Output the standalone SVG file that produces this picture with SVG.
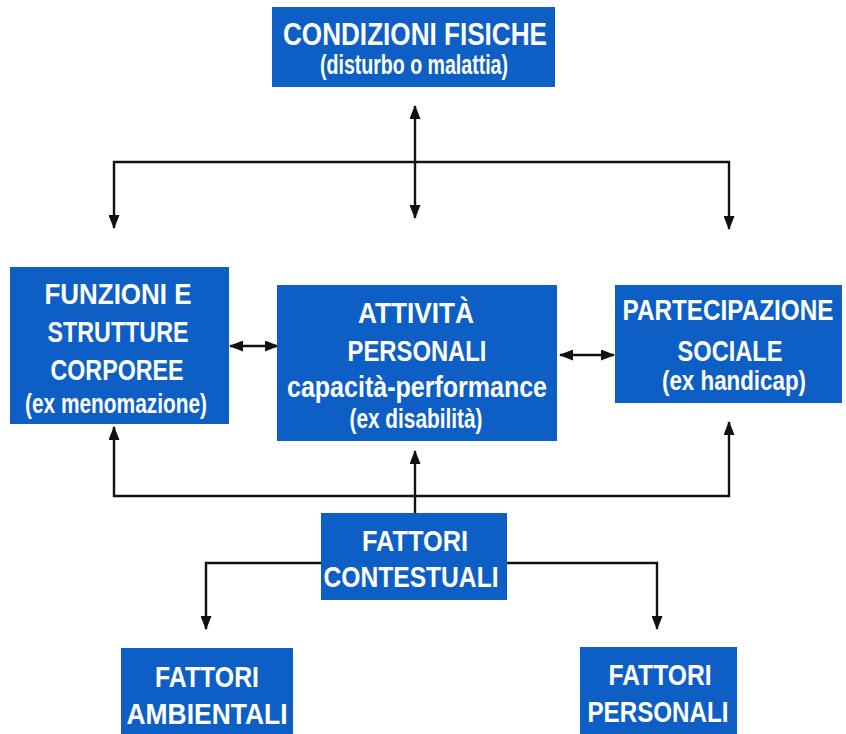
<svg xmlns="http://www.w3.org/2000/svg" width="846" height="734" viewBox="0 0 846 734">
<style>
.box{fill:#0d5fc6;}
.t{font-family:"Liberation Sans",Arial,sans-serif;font-weight:bold;fill:#ffffff;text-anchor:middle;}
.c{font-size:30px;}
.s{font-size:27px;}
.ln{fill:none;stroke:#111;stroke-width:2.4;}
</style>
<defs>
<marker id="ah" viewBox="0 0 14 11" refX="13" refY="5.5" markerWidth="14" markerHeight="11" markerUnits="userSpaceOnUse" orient="auto-start-reverse">
<path d="M0,0 L14,5.5 L0,11 z" fill="#111"/>
</marker>
</defs>
<rect width="846" height="734" fill="#ffffff"/>
<g id="connectors">
<line class="ln" x1="415" y1="106" x2="415" y2="218" marker-start="url(#ah)" marker-end="url(#ah)"/>
<polyline class="ln" points="114,228 114,162 729,162 729,229" marker-start="url(#ah)" marker-end="url(#ah)"/>
<line class="ln" x1="230" y1="346" x2="278" y2="346" marker-start="url(#ah)" marker-end="url(#ah)"/>
<line class="ln" x1="560" y1="355" x2="614" y2="355" marker-start="url(#ah)" marker-end="url(#ah)"/>
<polyline class="ln" points="114,427 114,496 729,496 729,422" marker-start="url(#ah)" marker-end="url(#ah)"/>
<line class="ln" x1="415" y1="513" x2="415" y2="451" marker-end="url(#ah)"/>
<polyline class="ln" points="321,563 206,563 206,629" marker-end="url(#ah)"/>
<polyline class="ln" points="507,563 657,563 657,629" marker-end="url(#ah)"/>
</g>
<g id="condizioni">
<rect class="box" x="272" y="7" width="283" height="80"/>
<text class="t" x="415" y="45" font-size="32" textLength="264" lengthAdjust="spacingAndGlyphs">CONDIZIONI FISICHE</text>
<text class="t" x="414" y="74" font-size="27" textLength="188" lengthAdjust="spacingAndGlyphs">(disturbo o malattia)</text>
</g>
<g id="funzioni">
<rect class="box" x="10" y="267" width="219" height="157"/>
<text class="t c" x="118" y="304" textLength="147" lengthAdjust="spacingAndGlyphs">FUNZIONI E</text>
<text class="t c" x="118" y="342" textLength="141" lengthAdjust="spacingAndGlyphs">STRUTTURE</text>
<text class="t c" x="117" y="380" textLength="133" lengthAdjust="spacingAndGlyphs">CORPOREE</text>
<text class="t s" x="116" y="413" textLength="182" lengthAdjust="spacingAndGlyphs">(ex menomazione)</text>
</g>
<g id="attivita">
<rect class="box" x="277" y="285" width="280" height="156"/>
<text class="t c" x="416" y="323" textLength="116" lengthAdjust="spacingAndGlyphs">ATTIVITÀ</text>
<text class="t c" x="417" y="361" textLength="139" lengthAdjust="spacingAndGlyphs">PERSONALI</text>
<text class="t c" x="417" y="397" textLength="260" lengthAdjust="spacingAndGlyphs">capacità-performance</text>
<text class="t s" x="416" y="428" textLength="133" lengthAdjust="spacingAndGlyphs">(ex disabilità)</text>
</g>
<g id="partecipazione">
<rect class="box" x="615" y="285" width="227" height="118"/>
<text class="t" transform="translate(728,320) scale(1,1.2)" x="0" y="0" font-size="25" textLength="211" lengthAdjust="spacingAndGlyphs">PARTECIPAZIONE</text>
<text class="t c" x="730" y="361" textLength="105" lengthAdjust="spacingAndGlyphs">SOCIALE</text>
<text class="t s" x="734" y="390" textLength="144" lengthAdjust="spacingAndGlyphs">(ex handicap)</text>
</g>
<g id="contestuali">
<rect class="box" x="321" y="513" width="186" height="87"/>
<text class="t c" x="415" y="551" textLength="106" lengthAdjust="spacingAndGlyphs">FATTORI</text>
<text class="t c" x="411" y="587" textLength="175" lengthAdjust="spacingAndGlyphs">CONTESTUALI</text>
</g>
<g id="ambientali">
<rect class="box" x="121" y="648" width="172" height="90"/>
<text class="t c" x="207" y="687" textLength="104" lengthAdjust="spacingAndGlyphs">FATTORI</text>
<text class="t c" x="207" y="724" textLength="161" lengthAdjust="spacingAndGlyphs">AMBIENTALI</text>
</g>
<g id="personali">
<rect class="box" x="580" y="647" width="157" height="91"/>
<text class="t c" x="660" y="685" textLength="103" lengthAdjust="spacingAndGlyphs">FATTORI</text>
<text class="t c" x="658" y="722" textLength="141" lengthAdjust="spacingAndGlyphs">PERSONALI</text>
</g>
</svg>
